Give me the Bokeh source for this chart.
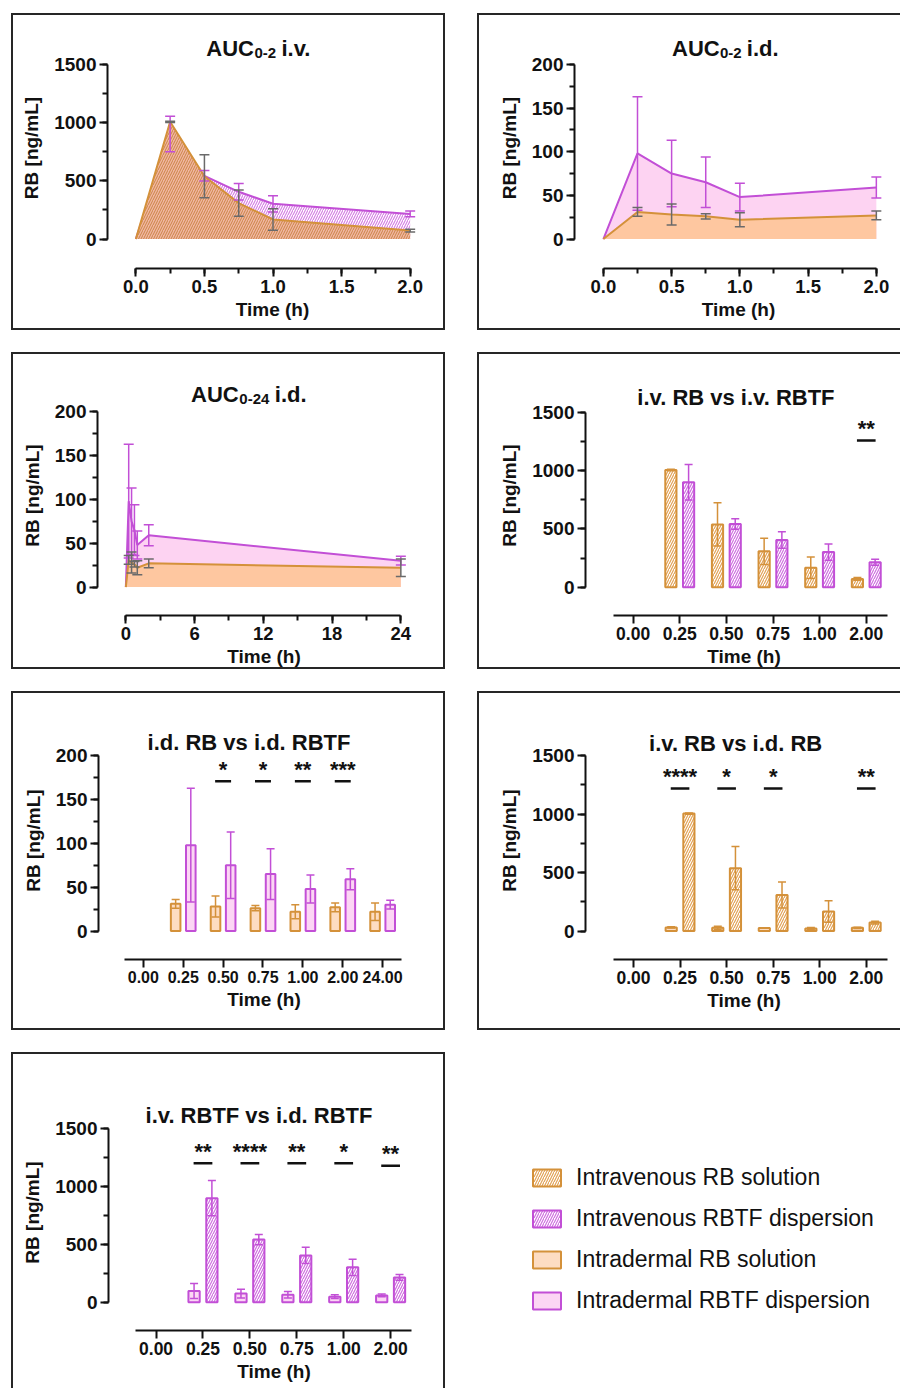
from bokeh.plotting import figure
from bokeh.models import (Range1d, SingleIntervalTicker, FixedTicker, Whisker, TeeHead,
                          ColumnDataSource, Label, Legend, LegendItem, NumeralTickFormatter)
from bokeh.layouts import column, row
from bokeh.core.properties import value
from bokeh.embed import file_html
from bokeh.resources import INLINE

# ---------------- data ----------------
pk_times = [0.0, 0.25, 0.5, 0.75, 1.0, 2.0]
pk_times_24 = [0.0, 0.25, 0.5, 0.75, 1.0, 2.0, 24.0]
iv_rb_mean = [0, 1005, 538, 308, 168, 72]
iv_rb_sd = [0, 6, 185, 112, 92, 12]
iv_rbtf_mean = [0, 900, 542, 405, 302, 215]
iv_rbtf_sd = [0, 152, 45, 70, 70, 25]
id_rb_mean = [0, 31, 28, 26, 22, 27, 22]
id_rb_sd = [0, 5, 12, 3, 8, 5, 10]
id_rbtf_mean = [0, 98, 75, 65, 48, 59, 30]
id_rbtf_sd = [0, 65, 38, 29, 16, 12, 5]

bar_cats = ["0.00", "0.25", "0.50", "0.75", "1.00", "2.00"]
bar_cats_24 = ["0.00", "0.25", "0.50", "0.75", "1.00", "2.00", "24.00"]

sig4_cats = ["2.00"]
sig4_marks = ["**"]
sig4_y = [1256]
sig5_cats = ["0.50", "0.75", "1.00", "2.00"]
sig5_marks = ["*", "*", "**", "***"]
sig5_y = [171, 171, 171, 171]
sig6_cats = ["0.25", "0.50", "0.75", "2.00"]
sig6_marks = ["****", "*", "*", "**"]
sig6_y = [1219, 1219, 1219, 1219]
sig7_cats = ["0.25", "0.50", "0.75", "1.00", "2.00"]
sig7_marks = ["**", "****", "**", "*", "**"]
sig7_y = [1201, 1201, 1201, 1201, 1180]

legend_labels = ["Intravenous RB solution", "Intravenous RBTF dispersion",
                 "Intradermal RB solution", "Intradermal RBTF dispersion"]

# ---------------- style ----------------
FONT = "Liberation Sans"
INK = "#111111"
ORANGE = "#D4913A"
PURPLE = "#C24FD6"
BW = 2
BAR_W = 0.24
OFF = 0.19

st_iv_rb = dict(fill_color="white", line_color=ORANGE, line_width=2,
                hatch_pattern="/", hatch_color="#E2A256", hatch_scale=5, hatch_weight=1.2)
st_iv_rbtf = dict(fill_color="white", line_color=PURPLE, line_width=2,
                  hatch_pattern="/", hatch_color="#CF6FE0", hatch_scale=5, hatch_weight=1.2)
st_id_rb = dict(fill_color="#FDDCC2", line_color=ORANGE, line_width=2)
st_id_rbtf = dict(fill_color="#FCD6F4", line_color=PURPLE, line_width=2)

AB = {"A": .722, "U": .722, "C": .722, "0": .556, "2": .556, "4": .556, "-": .333,
      "i": .278, ".": .278, "v": .556, "d": .611, " ": .278}


def tw(s, size):
    return sum(AB[c] for c in s) * size


def make_panel(box, frame, xmap, ymap, sides="tlbr"):
    # box and frame in page pixels: (left, top, right, bottom)
    bl, bt, br, bb = box
    cl = bl + (BW if "l" in sides else 0)
    ct = bt + (BW if "t" in sides else 0)
    cr = br - (BW if "r" in sides else 0)
    cb = bb - (BW if "b" in sides else 0)
    W = int(round(cr - cl))
    H = int(round(cb - ct))
    mb_l = int(round(frame[0] - cl))
    mb_t = int(round(frame[1] - ct))
    mb_r = max(0, int(round(cl + W - frame[2])))
    mb_b = int(round(ct + H - frame[3]))
    fl = cl + mb_l
    ft = ct + mb_t
    fr = cl + W - mb_r
    fb = ct + H - mb_b

    def fx(px):
        return xmap[0] + (px - xmap[1]) * (xmap[2] - xmap[0]) / (xmap[3] - xmap[1])

    def fy(py):
        return ymap[0] + (py - ymap[1]) * (ymap[2] - ymap[0]) / (ymap[3] - ymap[1])

    p = figure(width=W, height=H, x_range=Range1d(fx(fl), fx(fr)), y_range=Range1d(fy(fb), fy(ft)),
               output_backend="svg", toolbar_location=None,
               min_border_left=mb_l, min_border_right=mb_r, min_border_top=mb_t, min_border_bottom=mb_b,
               outline_line_color=None, background_fill_color="white", border_fill_color="white")
    p.grid.visible = False
    css = {"box-sizing": "content-box"}
    for s, name in zip("tlbr", ["top", "left", "bottom", "right"]):
        if s in sides:
            css["border-" + name] = "%dpx solid #262626" % BW
    p.styles = css
    return p, fx, fy


def style_axes(p, xb, yb, xticker, yticker, xtick_size="18.5px"):
    p.xaxis.bounds = xb
    p.yaxis.bounds = yb
    p.xaxis.ticker = xticker
    p.yaxis.ticker = yticker
    for ax in list(p.xaxis) + list(p.yaxis):
        ax.axis_line_width = 2
        ax.axis_line_color = INK
        ax.major_tick_line_width = 2
        ax.major_tick_line_color = INK
        ax.minor_tick_line_width = 2
        ax.minor_tick_line_color = INK
        ax.major_tick_in = 0
        ax.major_tick_out = 8
        ax.minor_tick_in = 0
        ax.minor_tick_out = 5
        ax.major_label_text_font = FONT
        ax.major_label_text_font_style = "bold"
        ax.major_label_text_font_size = "19px"
        ax.major_label_text_color = INK
        ax.major_label_standoff = 3
        ax.axis_label_text_font = FONT
        ax.axis_label_text_font_style = "bold"
        ax.axis_label_text_font_size = "19px"
        ax.axis_label_text_color = INK
    p.xaxis.major_label_text_font_size = xtick_size
    p.xaxis.axis_label = "Time (h)"
    p.yaxis.axis_label = "RB [ng/mL]"
    p.xaxis.axis_label_standoff = 3
    p.yaxis.axis_label_standoff = 9


def add_title(p, fx, fy, cx, base, text):
    p.add_layout(Label(x=fx(cx), y=fy(base), text=text, text_align="center",
                       text_baseline="alphabetic", text_font=FONT, text_font_style="bold",
                       text_font_size="22px", text_color=INK))


def add_auc_title(p, fx, fy, cx, base, sub, rest):
    w1 = tw("AUC", 22)
    w2 = tw(sub, 15)
    w3 = tw(rest, 22)
    x0 = cx - (w1 + w2 + 5 + w3) / 2
    parts = [("AUC", x0, base, "22px"), (sub, x0 + w1, base + 4.5, "15px"),
             (rest, x0 + w1 + w2 + 5, base, "22px")]
    for t, px, py, fs in parts:
        p.add_layout(Label(x=fx(px), y=fy(py), text=t, text_align="left",
                           text_baseline="alphabetic", text_font=FONT, text_font_style="bold",
                           text_font_size=fs, text_color=INK))


def whiskers(p, xs, mean, sd, color, head=10):
    src = ColumnDataSource(dict(x=list(xs), lo=[m - s for m, s in zip(mean, sd)],
                                hi=[m + s for m, s in zip(mean, sd)]))
    p.add_layout(Whisker(source=src, base="x", lower="lo", upper="hi", line_color=color,
                         line_width=1.5, level="annotation",
                         upper_head=TeeHead(size=head, line_color=color, line_width=1.5),
                         lower_head=TeeHead(size=head, line_color=color, line_width=1.5)))


def bar_pair(p, n, left_mean, left_sd, left_st, right_mean, right_sd, right_st):
    idx = list(range(1, n + 1))
    xl = [i - OFF for i in idx]
    xr = [i + OFF for i in idx]
    p.vbar(x=xl, top=left_mean[1:n + 1], bottom=0, width=BAR_W, **left_st)
    p.vbar(x=xr, top=right_mean[1:n + 1], bottom=0, width=BAR_W, **right_st)
    whiskers(p, xl, left_mean[1:n + 1], left_sd[1:n + 1], left_st["line_color"], head=8)
    whiskers(p, xr, right_mean[1:n + 1], right_sd[1:n + 1], right_st["line_color"], head=8)


def sig(p, cats, scats, marks, ys):
    xs = [cats.index(c) for c in scats]
    p.segment(x0=[x - 0.2 for x in xs], x1=[x + 0.2 for x in xs], y0=ys, y1=ys,
              line_width=2.5, line_color=INK)
    p.text(x=xs, y=ys, text=marks, text_align="center", text_baseline="alphabetic",
           y_offset=-12, text_font=value(FONT), text_font_style="bold",
           text_font_size="22px", text_color=INK)


def cat_ticker(cats):
    return FixedTicker(ticks=list(range(len(cats))))


# ---------------- panel 1: AUC0-2 i.v. ----------------
p1, fx, fy = make_panel((11, 14, 445, 331), (107, 28, 433, 265), (0, 135, 2, 406), (0, 236, 1500, 64))
p1.varea(x=pk_times, y1=0, y2=iv_rbtf_mean, fill_color="white", hatch_pattern="/",
         hatch_color="#D47CE3", hatch_scale=5, hatch_weight=1.1)
p1.line(pk_times, iv_rbtf_mean, line_color=PURPLE, line_width=2)
p1.varea(x=pk_times, y1=0, y2=iv_rb_mean, fill_color="#F2B6A2", hatch_pattern="/",
         hatch_color="#C98545", hatch_scale=5, hatch_weight=1.0)
p1.line(pk_times, iv_rb_mean, line_color=ORANGE, line_width=2)
whiskers(p1, pk_times[1:], iv_rbtf_mean[1:], iv_rbtf_sd[1:], PURPLE)
whiskers(p1, pk_times[1:], iv_rb_mean[1:], iv_rb_sd[1:], "#6A6A6A")
style_axes(p1, (0, 2), (0, 1500), SingleIntervalTicker(interval=0.5, num_minor_ticks=2),
           SingleIntervalTicker(interval=500, num_minor_ticks=2))
p1.xaxis.formatter = NumeralTickFormatter(format="0.0")
add_auc_title(p1, fx, fy, 257, 48.3, "0-2", "i.v.")

# ---------------- panel 2: AUC0-2 i.d. ----------------
p2, fx, fy = make_panel((477, 14, 900, 331), (574, 28, 900, 265), (0, 602.7, 2, 874), (0, 236, 200, 64.3), "tlb")
p2.varea(x=pk_times, y1=0, y2=id_rbtf_mean[:6], fill_color="#FDD3F2")
p2.varea(x=pk_times, y1=0, y2=id_rb_mean[:6], fill_color="#FEC7A0")
p2.line(pk_times, id_rbtf_mean[:6], line_color=PURPLE, line_width=2)
p2.line(pk_times, id_rb_mean[:6], line_color=ORANGE, line_width=2)
whiskers(p2, pk_times[1:], id_rbtf_mean[1:6], id_rbtf_sd[1:6], PURPLE)
whiskers(p2, pk_times[1:], id_rb_mean[1:6], id_rb_sd[1:6], "#6A6A6A")
style_axes(p2, (0, 2), (0, 200), SingleIntervalTicker(interval=0.5, num_minor_ticks=2),
           SingleIntervalTicker(interval=50, num_minor_ticks=2))
p2.xaxis.formatter = NumeralTickFormatter(format="0.0")
add_auc_title(p2, fx, fy, 724, 48.3, "0-2", "i.d.")

# ---------------- panel 3: AUC0-24 i.d. ----------------
p3, fx, fy = make_panel((11, 353, 445, 670), (97, 376, 426, 612), (0, 125, 24, 396.7), (0, 584, 200, 411.7))
p3.varea(x=pk_times_24, y1=0, y2=id_rbtf_mean, fill_color="#FDD3F2")
p3.varea(x=pk_times_24, y1=0, y2=id_rb_mean, fill_color="#FEC7A0")
p3.line(pk_times_24, id_rbtf_mean, line_color=PURPLE, line_width=2)
p3.line(pk_times_24, id_rb_mean, line_color=ORANGE, line_width=2)
whiskers(p3, pk_times_24[1:], id_rbtf_mean[1:], id_rbtf_sd[1:], PURPLE)
whiskers(p3, pk_times_24[1:], id_rb_mean[1:], id_rb_sd[1:], "#6A6A6A")
style_axes(p3, (0, 24), (0, 200), SingleIntervalTicker(interval=6, num_minor_ticks=2),
           SingleIntervalTicker(interval=50, num_minor_ticks=2))
add_auc_title(p3, fx, fy, 246.7, 395, "0-24", "i.d.")

# ---------------- panel 4: i.v. RB vs i.v. RBTF ----------------
p4, fx, fy = make_panel((477, 353, 900, 670), (585, 376, 900, 612), (0, 632.3, 5, 864), (0, 584.3, 1500, 412), "tlb")
bar_pair(p4, 5, iv_rb_mean, iv_rb_sd, st_iv_rb, iv_rbtf_mean, iv_rbtf_sd, st_iv_rbtf)
sig(p4, bar_cats, sig4_cats, sig4_marks, sig4_y)
style_axes(p4, (-0.43, 5.45), (0, 1500), cat_ticker(bar_cats),
           SingleIntervalTicker(interval=500, num_minor_ticks=2), xtick_size="17.5px")
p4.xaxis.major_label_overrides = {i: c for i, c in enumerate(bar_cats)}
add_title(p4, fx, fy, 734.5, 398, "i.v. RB vs i.v. RBTF")

# ---------------- panel 5: i.d. RB vs i.d. RBTF ----------------
p5, fx, fy = make_panel((11, 692, 445, 1031), (98, 722, 425, 956), (0, 142.3, 6, 378.7), (0, 928, 200, 755.7))
bar_pair(p5, 6, id_rb_mean, id_rb_sd, st_id_rb, id_rbtf_mean, id_rbtf_sd, st_id_rbtf)
sig(p5, bar_cats_24, sig5_cats, sig5_marks, sig5_y)
style_axes(p5, (-0.46, 6.47), (0, 200), cat_ticker(bar_cats_24),
           SingleIntervalTicker(interval=50, num_minor_ticks=2), xtick_size="16px")
p5.xaxis.major_label_overrides = {i: c for i, c in enumerate(bar_cats_24)}
add_title(p5, fx, fy, 246.7, 742.3, "i.d. RB vs i.d. RBTF")

# ---------------- panel 6: i.v. RB vs i.d. RB ----------------
p6, fx, fy = make_panel((477, 692, 900, 1031), (585, 722, 900, 956), (0, 632.7, 5, 864), (0, 928, 1500, 755.7), "tlb")
bar_pair(p6, 5, id_rb_mean, id_rb_sd, st_id_rb, iv_rb_mean, iv_rb_sd, st_iv_rb)
sig(p6, bar_cats, sig6_cats, sig6_marks, sig6_y)
style_axes(p6, (-0.43, 5.45), (0, 1500), cat_ticker(bar_cats),
           SingleIntervalTicker(interval=500, num_minor_ticks=2), xtick_size="17.5px")
p6.xaxis.major_label_overrides = {i: c for i, c in enumerate(bar_cats)}
add_title(p6, fx, fy, 734.2, 744, "i.v. RB vs i.d. RB")

# ---------------- panel 7: i.v. RBTF vs i.d. RBTF ----------------
p7, fx, fy = make_panel((11, 1053, 445, 1389), (108, 1095, 435, 1329), (0, 155, 5, 386.7), (0, 1301, 1500, 1129), "tlr")
bar_pair(p7, 5, id_rbtf_mean, id_rbtf_sd, st_id_rbtf, iv_rbtf_mean, iv_rbtf_sd, st_iv_rbtf)
sig(p7, bar_cats, sig7_cats, sig7_marks, sig7_y)
style_axes(p7, (-0.43, 5.45), (0, 1500), cat_ticker(bar_cats),
           SingleIntervalTicker(interval=500, num_minor_ticks=2), xtick_size="17.5px")
p7.xaxis.major_label_overrides = {i: c for i, c in enumerate(bar_cats)}
add_title(p7, fx, fy, 256.7, 1115.7, "i.v. RBTF vs i.d. RBTF")

# ---------------- legend panel (same top/bottom borders as panel 7) ----------------
pl = figure(width=423, height=336, x_axis_type=None, y_axis_type=None, toolbar_location=None,
            output_backend="svg", min_border_left=0, min_border_top=40, min_border_right=0,
            min_border_bottom=60, outline_line_color=None,
            x_range=Range1d(0, 1), y_range=Range1d(0, 1))
pl.grid.visible = False
lr = []
for st in (st_iv_rb, st_iv_rbtf, st_id_rb, st_id_rbtf):
    r = pl.vbar(x=[0.5], top=[0.5], bottom=0, width=0.1, **st)
    r.visible = False
    lr.append(r)
legend = Legend(items=[LegendItem(label=value(t), renderers=[r]) for t, r in zip(legend_labels, lr)],
                location=(52, 14), orientation="vertical",
                glyph_width=35, glyph_height=21, label_standoff=12, spacing=14, label_height=27,
                padding=0, margin=0, border_line_color=None, background_fill_alpha=0,
                inactive_fill_alpha=0,
                label_text_font=FONT, label_text_font_size="23px", label_text_color=INK)
pl.add_layout(legend)

layout = column(row(p1, p2, spacing=32), row(p3, p4, spacing=32), row(p5, p6, spacing=32),
                row(p7, pl, spacing=32), spacing=22, margin=(13, 0, 0, 11))

open("out.html", "w").write(file_html(layout, INLINE))
